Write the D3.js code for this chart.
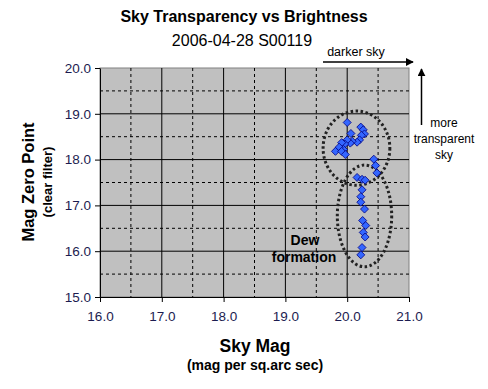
<!DOCTYPE html>
<html>
<head>
<meta charset="utf-8">
<script src="https://cdn.jsdelivr.net/npm/d3@7"></script>
<style>
  body { margin: 0; background: #fff; }
  text { font-family: Arial, "Liberation Sans", sans-serif; }
</style>
</head>
<body>
<div id="chart"></div>
<script>
// Data
var skyMag = [20.00, 20.06, 20.22, 20.26, 20.28, 20.23, 20.20, 20.16, 20.08, 20.05,
              20.00, 19.96, 19.91, 19.94, 19.87, 19.81, 19.91, 19.97, 20.43, 20.46,
              20.48, 20.16, 20.24, 20.29, 20.24, 20.22, 20.22, 20.28, 20.25, 20.30,
              20.26, 20.29, 20.24, 20.22];
var zeroPoint = [18.81, 18.57, 18.71, 18.65, 18.56, 18.53, 18.43, 18.38, 18.40, 18.36,
                 18.43, 18.34, 18.37, 18.22, 18.27, 18.18, 18.18, 18.11, 18.01, 17.87,
                 17.71, 17.61, 17.57, 17.55, 17.34, 17.19, 17.07, 16.92, 16.67, 16.56,
                 16.41, 16.31, 16.08, 15.92];
var xTicks = [16, 17, 18, 19, 20, 21];
var yTicks = [15, 16, 17, 18, 19, 20];
// ellipses drawn around the two groups (centre x, centre y, radius x, radius y in data units)
var groupCx = [20.15, 20.28];
var groupCy = [18.25, 16.77];
var groupRx = [0.54, 0.44];
var groupRy = [0.81, 1.11];

var svgWidth = 488;
var svgHeight = 389;
var margin = {top: 68, right: 79, bottom: 92, left: 100};
var width = svgWidth - margin.left - margin.right;
var height = svgHeight - margin.top - margin.bottom;

var svg = d3.select("#chart")
    .append("svg")
    .attr("width", svgWidth)
    .attr("height", svgHeight);

var chartGroup = svg.append("g").attr("transform", `translate(${margin.left}, ${margin.top})`);

var xScale = d3.scaleLinear().domain([16, 21]).range([0, width]);
var yScale = d3.scaleLinear().domain([15, 20]).range([height, 0]);

// plot area
chartGroup.append("rect")
    .attr("width", width)
    .attr("height", height)
    .attr("fill", "#c0c0c0")
    .attr("stroke", "#808080");

// minor (dashed) gridlines
var halfX = d3.range(16.5, 21, 1);
var halfY = d3.range(15.5, 20, 1);
chartGroup.selectAll(".vminor").data(halfX).enter().append("line")
    .attr("x1", d => xScale(d)).attr("x2", d => xScale(d))
    .attr("y1", 0).attr("y2", height)
    .attr("stroke", "#000").attr("stroke-dasharray", "3,3");
chartGroup.selectAll(".hminor").data(halfY).enter().append("line")
    .attr("x1", 0).attr("x2", width)
    .attr("y1", d => yScale(d)).attr("y2", d => yScale(d))
    .attr("stroke", "#000").attr("stroke-dasharray", "3,3");

// major gridlines
chartGroup.selectAll(".vmajor").data(xTicks.slice(1, -1)).enter().append("line")
    .attr("x1", d => xScale(d)).attr("x2", d => xScale(d))
    .attr("y1", 0).attr("y2", height)
    .attr("stroke", "#000");
chartGroup.selectAll(".hmajor").data(yTicks.slice(1, -1)).enter().append("line")
    .attr("x1", 0).attr("x2", width)
    .attr("y1", d => yScale(d)).attr("y2", d => yScale(d))
    .attr("stroke", "#000");

// axes
var bottomAxis = d3.axisBottom(xScale).tickValues(xTicks).tickSize(5).tickSizeOuter(0).tickFormat(d3.format(".1f"));
var leftAxis = d3.axisLeft(yScale).tickValues(yTicks).tickSize(5).tickSizeOuter(0).tickFormat(d3.format(".1f"));

var xAxisG = chartGroup.append("g")
    .attr("transform", `translate(0, ${height})`)
    .call(bottomAxis);
var yAxisG = chartGroup.append("g").call(leftAxis);

[xAxisG, yAxisG].forEach(function(g) {
    g.select(".domain").attr("stroke", "#000");
    g.selectAll(".tick line").attr("stroke", "#000");
    g.selectAll(".tick text")
        .attr("fill", "#1c1c50")
        .style("font-size", "13.5px")
        .style("font-family", "Arial, 'Liberation Sans', sans-serif");
});
xAxisG.selectAll(".tick text").attr("dy", "1.15em");
yAxisG.selectAll(".tick text").attr("x", -9);

// ellipses
chartGroup.selectAll(".group").data(groupCx).enter().append("ellipse")
    .attr("cx", d => xScale(d))
    .attr("cy", (d, i) => yScale(groupCy[i]))
    .attr("rx", (d, i) => xScale(d + groupRx[i]) - xScale(d))
    .attr("ry", (d, i) => yScale(groupCy[i] - groupRy[i]) - yScale(groupCy[i]))
    .attr("fill", "none")
    .attr("stroke", "#222")
    .attr("stroke-width", 3)
    .attr("stroke-dasharray", "2.5,2.5");

// points
chartGroup.selectAll(".pt").data(skyMag).enter().append("path")
    .attr("d", "M0,-4L4,0L0,4L-4,0Z")
    .attr("transform", (d, i) => `translate(${xScale(d)}, ${yScale(zeroPoint[i])})`)
    .attr("fill", "#3366ff")
    .attr("stroke", "#000080")
    .attr("stroke-width", 0.8);

// titles
svg.append("text")
    .attr("x", 244).attr("y", 22)
    .attr("text-anchor", "middle")
    .style("font-size", "16px").style("font-weight", "bold")
    .text("Sky Transparency vs Brightness");
svg.append("text")
    .attr("x", 242).attr("y", 46)
    .attr("text-anchor", "middle")
    .style("font-size", "16px")
    .text("2006-04-28 S00119");

// axis titles
svg.append("text")
    .attr("x", 255).attr("y", 352)
    .attr("text-anchor", "middle")
    .style("font-size", "17.5px").style("font-weight", "bold")
    .text("Sky Mag");
svg.append("text")
    .attr("x", 255).attr("y", 370)
    .attr("text-anchor", "middle")
    .style("font-size", "14px").style("font-weight", "bold")
    .text("(mag per sq.arc sec)");
svg.append("text")
    .attr("transform", "translate(34, 182) rotate(-90)")
    .attr("text-anchor", "middle")
    .style("font-size", "16.5px").style("font-weight", "bold")
    .text("Mag Zero Point");
svg.append("text")
    .attr("transform", "translate(52, 182) rotate(-90)")
    .attr("text-anchor", "middle")
    .style("font-size", "13px").style("font-weight", "bold")
    .text("(clear filter)");

// annotations
svg.append("defs").append("marker")
    .attr("id", "head")
    .attr("viewBox", "0 0 10 10")
    .attr("refX", 9).attr("refY", 5)
    .attr("markerWidth", 8).attr("markerHeight", 8)
    .attr("markerUnits", "userSpaceOnUse")
    .attr("orient", "auto")
    .append("path").attr("d", "M0,0L10,5L0,10Z").attr("fill", "#000");

svg.append("line")
    .attr("x1", 323).attr("y1", 62).attr("x2", 413).attr("y2", 62)
    .attr("stroke", "#000").attr("stroke-width", 1.5)
    .attr("marker-end", "url(#head)");
svg.append("text")
    .attr("x", 356).attr("y", 56)
    .attr("text-anchor", "middle")
    .style("font-size", "12.5px")
    .text("darker sky");

svg.append("line")
    .attr("x1", 421.5).attr("y1", 125).attr("x2", 421.5).attr("y2", 69)
    .attr("stroke", "#000").attr("stroke-width", 1.5)
    .attr("marker-end", "url(#head)");
["more", "transparent", "sky"].forEach(function(t, i) {
    svg.append("text")
        .attr("x", 444).attr("y", 127 + i * 16)
        .attr("text-anchor", "middle")
        .style("font-size", "12px")
        .text(t);
});

svg.append("text")
    .attr("x", 305).attr("y", 245)
    .attr("text-anchor", "middle")
    .style("font-size", "14px").style("font-weight", "bold")
    .text("Dew");
svg.append("text")
    .attr("x", 304).attr("y", 262)
    .attr("text-anchor", "middle")
    .style("font-size", "14px").style("font-weight", "bold")
    .text("formation");
</script>
</body>
</html>
